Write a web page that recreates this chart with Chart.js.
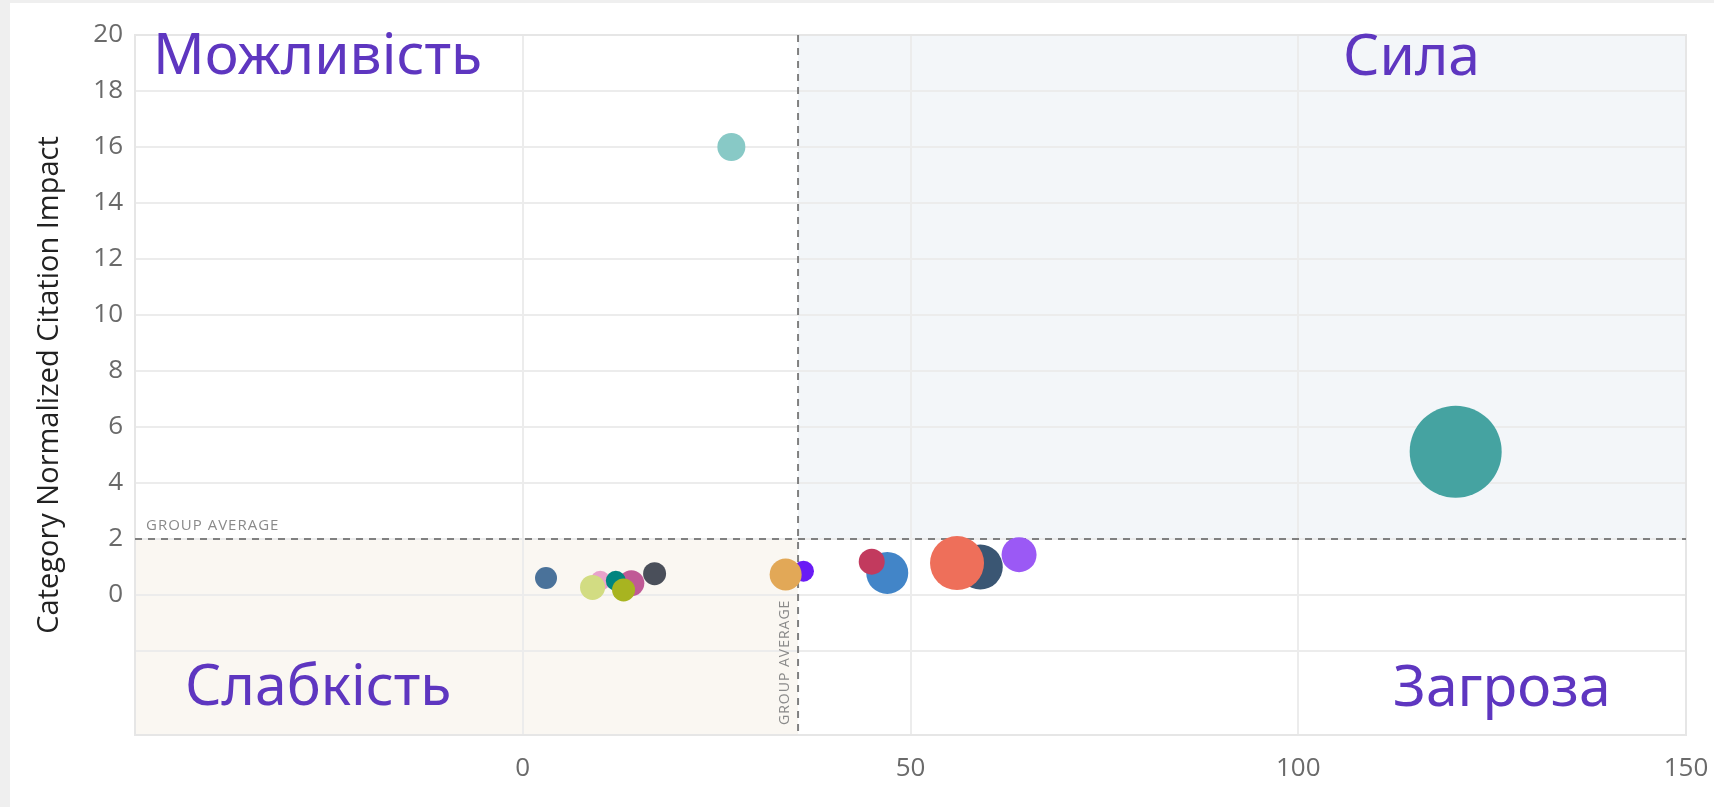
<!DOCTYPE html>
<html lang="uk">
  <head>
    <meta charset="UTF-8" />
    <title>Quadrant bubble chart</title>
    <script src="https://cdn.jsdelivr.net/npm/chart.js"></script>
    <style>
      html, body { margin: 0; padding: 0; background: #efefef; overflow: hidden; }
      .card { position: absolute; left: 10px; top: 3px; right: 0; bottom: 0; background: #ffffff; }
      .wrap { position: absolute; left: 0; top: 0; width: 1714px; height: 807px; }
    </style>
  </head>
  <body>
    <div class="card"></div>
    <div class="wrap"><canvas id="quadChart"></canvas></div>

    <script>
      // bubble data: x, y and bubble radius (px)
      const xValues = [120.3, 26.9, 3.0, 10.0, 14.0, 12.0, 9.0, 13.0, 17.0, 36.2, 33.9, 47.0, 45.0, 59.0, 56.0, 64.0];
      const yValues = [5.12, 16.0, 0.61, 0.51, 0.42, 0.51, 0.27, 0.18, 0.76, 0.85, 0.73, 0.79, 1.19, 1.0, 1.14, 1.44];
      const radii = [46, 14, 11, 10, 13, 10, 12.5, 11.5, 11.5, 10.5, 16, 21, 13, 22.5, 27, 17.5];
      const colors = [
        "#45a3a1", "#88c9c6", "#4a729a", "#e8a2cb", "#c05a96", "#00857f",
        "#d2dc82", "#a8b420", "#4a4f5a", "#6a1cf5", "#e2a857", "#4285c8",
        "#c23a5e", "#3a5673", "#ee6f5a", "#9b59f5",
      ];
      const groupAverageX = 35.5;
      const groupAverageY = 2;
      const quadrantLabels = ["Можливість", "Сила", "Слабкість", "Загроза"];

      const points = xValues.map((x, i) => ({ x: x, y: yValues[i], r: radii[i] }));

      const quadrantPlugin = {
        id: "quadrants",
        beforeDraw(chart) {
          const { ctx, chartArea, scales } = chart;
          const gx = scales.x.getPixelForValue(groupAverageX);
          const gy = scales.y.getPixelForValue(groupAverageY);
          ctx.save();
          ctx.fillStyle = "#f3f6f9";
          ctx.fillRect(gx, chartArea.top, chartArea.right - gx, gy - chartArea.top);
          ctx.fillStyle = "#faf7f2";
          ctx.fillRect(chartArea.left, gy, gx - chartArea.left, chartArea.bottom - gy);
          ctx.restore();
        },
        beforeDatasetsDraw(chart) {
          const { ctx, chartArea, scales } = chart;
          const gx = scales.x.getPixelForValue(groupAverageX);
          const gy = scales.y.getPixelForValue(groupAverageY);
          ctx.save();
          ctx.strokeStyle = "#e6e6e6";
          ctx.lineWidth = 2;
          ctx.strokeRect(chartArea.left, chartArea.top, chartArea.right - chartArea.left, chartArea.bottom - chartArea.top);

          ctx.strokeStyle = "#808080";
          ctx.lineWidth = 2;
          ctx.setLineDash([7, 6]);
          ctx.beginPath();
          ctx.moveTo(chartArea.left, gy);
          ctx.lineTo(chartArea.right, gy);
          ctx.moveTo(gx, chartArea.top);
          ctx.lineTo(gx, chartArea.bottom);
          ctx.stroke();
          ctx.setLineDash([]);

          ctx.fillStyle = "#8a8a8a";
          ctx.font = "15px 'Open Sans'";
          ctx.letterSpacing = "1px";
          ctx.textBaseline = "alphabetic";
          ctx.textAlign = "left";
          ctx.fillText("GROUP AVERAGE", chartArea.left + 11, gy - 9);
          ctx.translate(gx - 9, chartArea.bottom - 10);
          ctx.rotate(-Math.PI / 2);
          ctx.font = "14px 'Open Sans'";
          ctx.fillText("GROUP AVERAGE", 0, 0);
          ctx.restore();
        },
        afterDraw(chart) {
          const { ctx, chartArea } = chart;
          ctx.save();
          ctx.fillStyle = "#5e36c0";
          ctx.font = "57px 'Noto Sans'";
          ctx.textBaseline = "alphabetic";
          ctx.textAlign = "left";
          ctx.fillText(quadrantLabels[0], chartArea.left + 18, chartArea.top + 39);
          ctx.fillText(quadrantLabels[1], chartArea.left + 1208, chartArea.top + 40);
          ctx.fillText(quadrantLabels[2], chartArea.left + 50, chartArea.bottom - 30);
          ctx.fillText(quadrantLabels[3], chartArea.left + 1258, chartArea.bottom - 29);
          ctx.restore();
        },
      };

      const ctx = document.getElementById("quadChart").getContext("2d");
      const quadChart = new Chart(ctx, {
        type: "bubble",
        data: {
          datasets: [
            {
              data: points,
              backgroundColor: colors,
              borderColor: colors,
              borderWidth: 0,
            },
          ],
        },
        options: {
          responsive: true,
          maintainAspectRatio: false,
          devicePixelRatio: 1,
          animation: false,
          layout: { autoPadding: false, padding: { left: 10, top: 35, right: 28, bottom: 0 } },
          plugins: { legend: { display: false }, tooltip: { enabled: false } },
          scales: {
            x: {
              type: "linear",
              min: -50,
              max: 150,
              afterFit(scale) {
                scale.height = 72;
                scale.paddingLeft = 0;
                scale.paddingRight = 0;
              },
              grid: { color: "#ececec", lineWidth: 2, drawTicks: false },
              border: { display: false },
              ticks: {
                stepSize: 50,
                padding: 18,
                color: "#6a6a6a",
                font: { family: "Open Sans", size: 26 },
                callback: (v) => (v < 0 ? "" : v),
              },
            },
            y: {
              type: "linear",
              min: -5,
              max: 20,
              afterFit(scale) {
                scale.width = 125;
                scale.paddingTop = 0;
                scale.paddingBottom = 0;
              },
              grid: { color: "#ececec", lineWidth: 2, drawTicks: false },
              border: { display: false },
              ticks: {
                stepSize: 2,
                padding: 12,
                color: "#6a6a6a",
                font: { family: "Open Sans", size: 26 },
                callback: (v) => (v < 0 ? "" : v),
              },
              title: {
                display: true,
                text: "Category Normalized Citation Impact",
                color: "#222222",
                font: { family: "Open Sans", size: 29 },
                padding: { top: 22, bottom: 0 },
              },
            },
          },
        },
        plugins: [quadrantPlugin],
      });
    </script>
  </body>
</html>
